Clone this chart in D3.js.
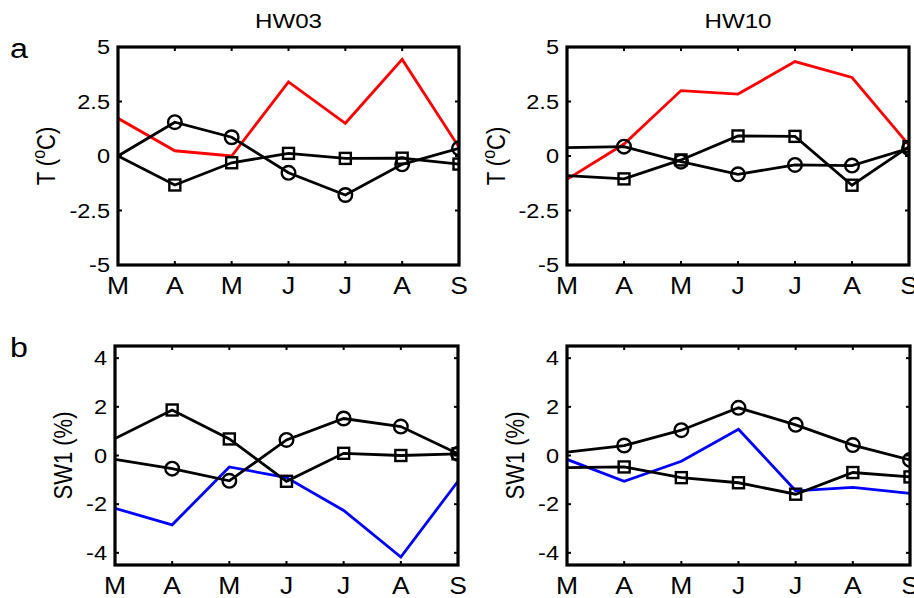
<!DOCTYPE html>
<html><head><meta charset="utf-8">
<script src="https://cdn.jsdelivr.net/npm/d3@7"></script>
<style>
body{margin:0;background:#fff;}
text{font-family:"Liberation Sans",Arial,sans-serif;fill:#000;}
</style></head>
<body><svg id="c" width="914" height="598"></svg>
<script>
// ---- data ----
const months = ["M","A","M","J","J","A","S"];
const tTicks = [5, 2.5, 0, -2.5, -5];
const tTickLabels = ["5","2.5","0","-2.5","-5"];
const swTicks = [4, 2, 0, -2, -4];
const swTickLabels = ["4","2","0","-2","-4"];
const titles = ["HW03","HW10"];

// HW03 temperature anomalies (°C)
const hw03T_obs    = [1.73, 0.24, 0.0, 3.4, 1.5, 4.43, 0.4];
const hw03T_circle = [0.0, 1.55, 0.86, -0.77, -1.79, -0.38, 0.35];
const hw03T_square = [0.0, -1.33, -0.31, 0.12, -0.11, -0.1, -0.37];
// HW10 temperature anomalies (°C)
const hw10T_obs    = [-1.07, 0.55, 3.0, 2.84, 4.33, 3.6, 0.5];
const hw10T_circle = [0.38, 0.43, -0.26, -0.84, -0.41, -0.44, 0.35];
const hw10T_square = [-0.9, -1.05, -0.18, 0.92, 0.9, -1.34, 0.43];
// HW03 soil water anomalies (%)
const hw03S_obs    = [-2.17, -2.85, -0.47, -0.91, -2.26, -4.17, -1.06];
const hw03S_circle = [-0.16, -0.54, -1.04, 0.64, 1.52, 1.19, 0.07];
const hw03S_square = [0.7, 1.87, 0.68, -1.06, 0.09, 0.0, 0.07];
// HW10 soil water anomalies (%)
const hw10S_obs    = [-0.16, -1.06, -0.24, 1.08, -1.45, -1.31, -1.56];
const hw10S_circle = [0.14, 0.41, 1.04, 1.96, 1.26, 0.43, -0.18];
const hw10S_square = [-0.5, -0.47, -0.91, -1.12, -1.59, -0.7, -0.88];

// ---- layout ----
const SX = 1.15; // horizontal text stretch of reference
const svg = d3.select("#c");
const panels = [
  {x0:118, x1:459, y0:47, y1:265, dom:[-5,5], ticks:tTicks, labels:tTickLabels, obs:hw03T_obs, circ:hw03T_circle, sq:hw03T_square, color:"#ff0000", ylab:"T", title:titles[0], letter:"a", labX:46},
  {x0:567, x1:909, y0:47, y1:265, dom:[-5,5], ticks:tTicks, labels:tTickLabels, obs:hw10T_obs, circ:hw10T_circle, sq:hw10T_square, color:"#ff0000", ylab:"T", title:titles[1], labX:496},
  {x0:115, x1:458, y0:346, y1:565, dom:[-4.5,4.5], ticks:swTicks, labels:swTickLabels, obs:hw03S_obs, circ:hw03S_circle, sq:hw03S_square, color:"#0000ff", ylab:"SW", letter:"b", labX:63},
  {x0:567, x1:910, y0:346, y1:565, dom:[-4.5,4.5], ticks:swTicks, labels:swTickLabels, obs:hw10S_obs, circ:hw10S_circle, sq:hw10S_square, color:"#0000ff", ylab:"SW", labX:515}
];

function stretchedText(g, x, y, str, size, anchor){
  return g.append("text")
    .attr("transform", `translate(${x},${y}) scale(${SX},1)`)
    .attr("font-size", size).attr("text-anchor", anchor).text(str);
}

panels.forEach((p, pi) => {
  const x = d3.scaleLinear().domain([0, months.length - 1]).range([p.x0, p.x1]);
  const y = d3.scaleLinear().domain(p.dom).range([p.y1, p.y0]);
  const g = svg.append("g");
  const cid = "clip" + pi;
  svg.append("clipPath").attr("id", cid).append("rect")
    .attr("x", p.x0).attr("y", p.y0).attr("width", p.x1 - p.x0).attr("height", p.y1 - p.y0);
  const dg = g.append("g").attr("clip-path", `url(#${cid})`);
  const line = d3.line().x((d, i) => x(i)).y(d => y(d));

  dg.append("path").datum(p.obs).attr("d", line)
    .attr("fill", "none").attr("stroke", p.color).attr("stroke-width", 2.8);
  [p.sq, p.circ].forEach(ser => {
    dg.append("path").datum(ser).attr("d", line)
      .attr("fill", "none").attr("stroke", "#000").attr("stroke-width", 2.8);
  });
  const idx = d3.range(1, months.length);
  dg.selectAll(".circ").data(idx).enter().append("circle")
    .attr("cx", i => x(i)).attr("cy", i => y(p.circ[i])).attr("r", 6.8)
    .attr("fill", "none").attr("stroke", "#000").attr("stroke-width", 2.4);
  dg.selectAll(".sq").data(idx).enter().append("rect")
    .attr("x", i => x(i) - 5.5).attr("y", i => y(p.sq[i]) - 5.5)
    .attr("width", 11).attr("height", 11)
    .attr("fill", "none").attr("stroke", "#000").attr("stroke-width", 2.4);

  // ticks (inward, all four sides)
  const tl = 4;
  months.forEach((m, i) => {
    g.append("line").attr("x1", x(i)).attr("x2", x(i)).attr("y1", p.y1).attr("y2", p.y1 - tl).attr("stroke", "#000").attr("stroke-width", 2);
    g.append("line").attr("x1", x(i)).attr("x2", x(i)).attr("y1", p.y0).attr("y2", p.y0 + tl).attr("stroke", "#000").attr("stroke-width", 2);
    stretchedText(g, x(i), p.y1 + 29, m, 23, "middle");
  });
  p.ticks.forEach((t, i) => {
    g.append("line").attr("x1", p.x0).attr("x2", p.x0 + tl).attr("y1", y(t)).attr("y2", y(t)).attr("stroke", "#000").attr("stroke-width", 2);
    g.append("line").attr("x1", p.x1).attr("x2", p.x1 - tl).attr("y1", y(t)).attr("y2", y(t)).attr("stroke", "#000").attr("stroke-width", 2);
    stretchedText(g, p.x0 - 8, y(t) + 7, p.labels[i], 20.5, "end");
  });

  // frame
  g.append("rect").attr("x", p.x0).attr("y", p.y0).attr("width", p.x1 - p.x0).attr("height", p.y1 - p.y0)
    .attr("fill", "none").attr("stroke", "#000").attr("stroke-width", 3.2);

  // y label
  const cy = (p.y0 + p.y1) / 2;
  const yl = g.append("text").attr("transform", `translate(${p.labX},${cy}) rotate(-90) scale(1,${SX})`)
    .attr("font-size", 22).attr("text-anchor", "middle").attr("dy", "0.35em");
  if (p.ylab === "T") {
    yl.append("tspan").text("T (");
    yl.append("tspan").attr("font-size", 16).attr("dy", -9).text("o");
    yl.append("tspan").attr("dy", 9).text("C)");
  } else {
    yl.text("SW1 (%)");
  }

  if (p.title) stretchedText(g, (p.x0 + p.x1) / 2, 28, p.title, 21, "middle");
  if (p.letter) stretchedText(g, 19, p.y0 + 11, p.letter, 28, "middle");
});
</script></body></html>
